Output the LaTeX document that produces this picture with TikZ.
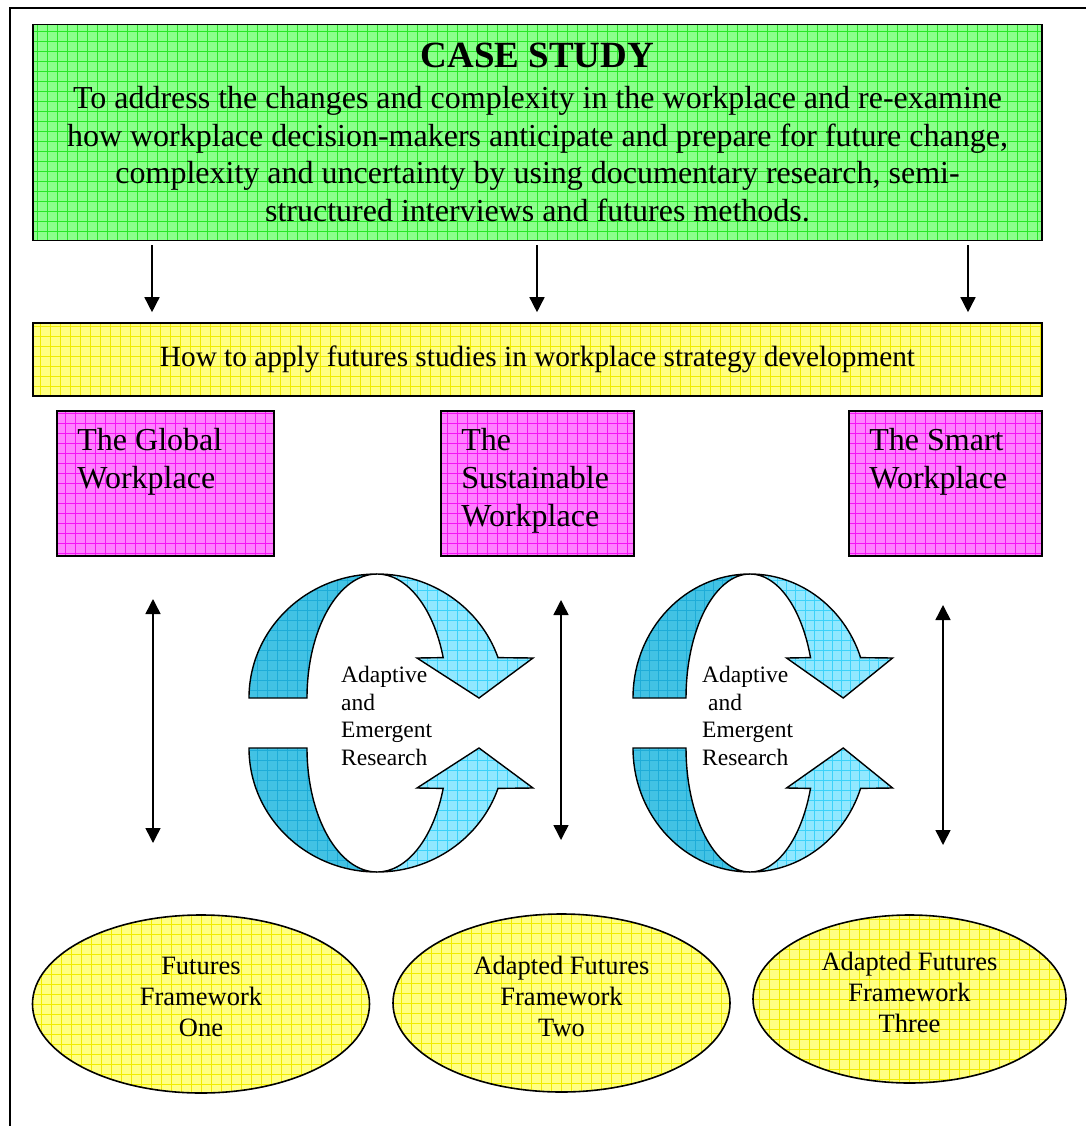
\documentclass[tikz,border=0pt]{standalone}
\usepackage{fontspec}
\setmainfont{Liberation Serif}
\usetikzlibrary{shapes,arrows.meta}

\definecolor{casegreen}{RGB}{140,255,140}
\definecolor{casegrid}{RGB}{40,232,40}
\definecolor{howyellow}{RGB}{255,255,130}
\definecolor{howgrid}{RGB}{240,236,0}
\definecolor{placepink}{RGB}{255,130,255}
\definecolor{placegrid}{RGB}{245,20,245}
\definecolor{backcyan}{RGB}{66,194,228}
\definecolor{backgrid}{RGB}{30,172,216}
\definecolor{frontcyan}{RGB}{145,232,255}
\definecolor{frontgrid}{RGB}{60,210,250}

\begin{document}
\begin{tikzpicture}[x=1pt,y=-1pt]
\tikzstyle{tiled} = [path picture={\draw[step=10pt,line width=0.6pt,#1] (path picture bounding box.south west) grid (path picture bounding box.north east);}]
\tikzstyle{casebox} = [draw,line width=1.6pt,fill=casegreen,tiled=casegrid,minimum width=1009pt,minimum height=216pt,align=center,inner sep=0pt,font=\fontsize{32}{37.7}\selectfont]
\tikzstyle{howbox} = [draw,line width=1.6pt,fill=howyellow,tiled=howgrid,minimum width=1009pt,minimum height=73pt,inner sep=0pt,font=\fontsize{29.3}{34}\selectfont]
\tikzstyle{placebox} = [draw,line width=1.6pt,fill=placepink,tiled=placegrid,minimum height=145pt,inner sep=0pt]
\tikzstyle{placetext} = [anchor=north west,align=left,inner sep=0pt,font=\fontsize{32}{38}\selectfont]
\tikzstyle{frame} = [ellipse,draw,line width=1.6pt,fill=howyellow,tiled=howgrid,inner sep=0pt]
\tikzstyle{frametext} = [align=center,yshift=7pt,font=\fontsize{26.5}{31}\selectfont]
\tikzstyle{backside} = [draw,line width=1.4pt,fill=backcyan,tiled=backgrid]
\tikzstyle{frontside} = [draw,line width=1.4pt,fill=frontcyan,tiled=frontgrid]
\tikzstyle{cycletext} = [anchor=north west,align=left,inner sep=0pt,font=\fontsize{23.5}{27.5}\selectfont]
\tikzstyle{down} = [line width=1.5pt,-{Triangle[width=15pt,length=15pt]}]
\tikzstyle{both} = [line width=1.5pt,{Triangle[width=15pt,length=15pt]}-{Triangle[width=15pt,length=15pt]}]
\useasboundingbox (0,0) rectangle (1086,1126);
\draw[line width=1.5pt] (10,1126) -- (10,8) -- (1086,8);

% case study and question
\node[casebox] (case) at (537.5,132.5) {{\fontsize{37}{44}\selectfont\bfseries CASE STUDY}\\[3pt]
  To address the changes and complexity in the workplace and re-examine\\
  how workplace decision-makers anticipate and prepare for future change,\\
  complexity and uncertainty by using documentary research, semi-\\
  structured interviews and futures methods.};
\node[howbox] (how) at (537.5,359.5) {How to apply futures studies in workplace strategy development};

\coordinate (c1) at (152,0);
\coordinate (c2) at (537,0);
\coordinate (c3) at (968,0);
\foreach \c in {c1,c2,c3}
  \draw[down,shorten <=4pt,shorten >=10pt] (case.south -| \c) -- (how.north -| \c);

% the three workplaces
\node[placebox,minimum width=217pt] (global) at (165.5,483.5) {};
\node[placebox,minimum width=193pt] (sustain) at (537.5,483.5) {};
\node[placebox,minimum width=193pt] (smart) at (945.5,483.5) {};
\node[placetext] (globalt) at ([shift={(21,18)}]global.north west) {The Global\\Workplace};
\node[placetext] (sustaint) at ([shift={(21,18)}]sustain.north west) {The\\Sustainable\\Workplace};
\node[placetext] (smartt) at ([shift={(21,18)}]smart.north west) {The Smart\\Workplace};

% adaptive cycles
\foreach \cx/\sc in {377/1,750/0.914} {
\begin{scope}[shift={(\cx,0)},xscale=\sc]
\filldraw[backside] (-128,698) arc[start angle=180,end angle=270,x radius=128,y radius=124]
  arc[start angle=270,end angle=180,x radius=70,y radius=124] -- cycle;
\filldraw[frontside] (0,574) arc[start angle=270,end angle=341,x radius=128,y radius=124]
  -- (156,658) -- (102,698) -- (40,658) -- (66.2,657.6)
  arc[start angle=341,end angle=270,x radius=70,y radius=124] -- cycle;
\filldraw[backside] (-128,748) arc[start angle=180,end angle=90,x radius=128,y radius=124]
  arc[start angle=90,end angle=180,x radius=70,y radius=124] -- cycle;
\filldraw[frontside] (0,872) arc[start angle=90,end angle=19,x radius=128,y radius=124]
  -- (156,788) -- (102,748) -- (40,788) -- (66.2,788.4)
  arc[start angle=19,end angle=90,x radius=70,y radius=124] -- cycle;
\end{scope}
}
\node[cycletext] (adapt1) at (341,666) {Adaptive\\and\\Emergent\\Research};
\node[cycletext] (adapt2) at (702,666) {Adaptive\\\hspace{0.25em}and\\Emergent\\Research};

% frameworks
\node[frame,minimum width=337pt,minimum height=178pt,label={[frametext]center:Futures\\Framework\\One}] (ff1) at (201,1004) {};
\node[frame,minimum width=337pt,minimum height=178pt,label={[frametext]center:Adapted Futures\\Framework\\Two}] (ff2) at (561.5,1003) {};
\node[frame,minimum width=313pt,minimum height=168pt,label={[frametext]center:Adapted Futures\\Framework\\Three}] (ff3) at (909.5,999) {};

\coordinate (d1a) at (153,599);
\coordinate (d1b) at (153,843);
\coordinate (d2a) at (561,600);
\coordinate (d2b) at (561,840);
\coordinate (d3a) at (943,605);
\coordinate (d3b) at (943,845);
\draw[both] (d1a) -- (d1b);
\draw[both] (d2a) -- (d2b);
\draw[both] (d3a) -- (d3b);
\end{tikzpicture}
\end{document}
